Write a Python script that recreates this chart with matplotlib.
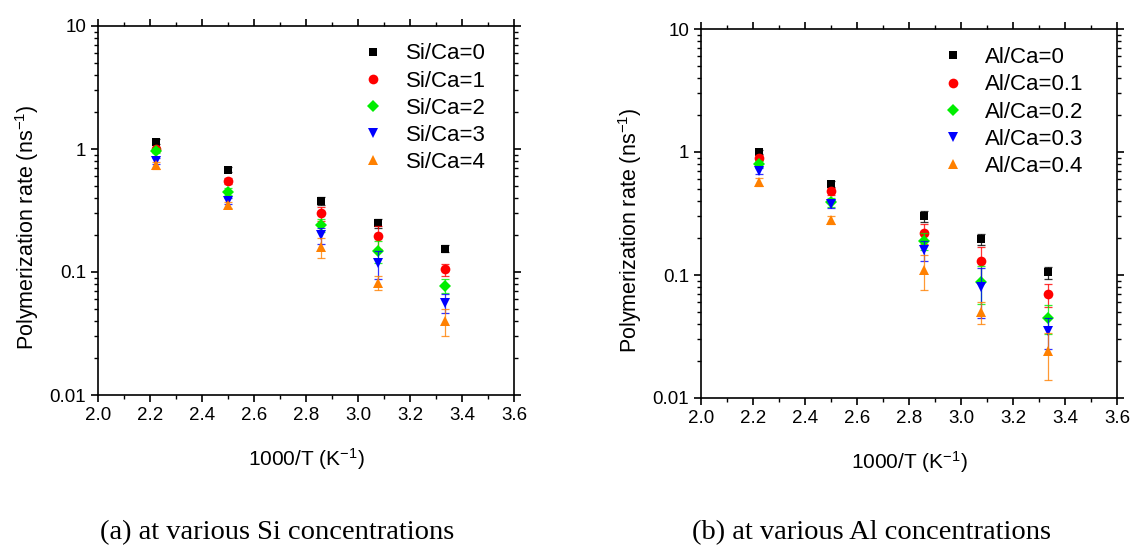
import numpy as np
import matplotlib
matplotlib.use("Agg")
import matplotlib.pyplot as plt
from matplotlib.ticker import MultipleLocator, LogLocator, FuncFormatter, NullFormatter

plt.rcParams['font.family'] = ['Liberation Sans', 'DejaVu Sans']
plt.rcParams['mathtext.fontset'] = 'custom'
plt.rcParams['mathtext.rm'] = 'Liberation Sans'
plt.rcParams['mathtext.it'] = 'Liberation Sans:italic'

inv_t = [2.222, 2.5, 2.857, 3.077, 3.333]

si_labels = ["Si/Ca=0", "Si/Ca=1", "Si/Ca=2", "Si/Ca=3", "Si/Ca=4"]
si_vals = [
    [1.15, 0.68, 0.38, 0.25, 0.155],
    [1.00, 0.55, 0.30, 0.195, 0.105],
    [0.97, 0.45, 0.24, 0.148, 0.077],
    [0.80, 0.38, 0.20, 0.118, 0.056],
    [0.74, 0.35, 0.16, 0.082, 0.040],
]
si_errs = [
    [0.05, 0.03, 0.03, 0.02, 0.010],
    [0.04, 0.03, 0.04, 0.04, 0.012],
    [0.04, 0.03, 0.03, 0.03, 0.010],
    [0.04, 0.02, 0.03, 0.03, 0.010],
    [0.05, 0.02, 0.03, 0.01, 0.010],
]

al_labels = ["Al/Ca=0", "Al/Ca=0.1", "Al/Ca=0.2", "Al/Ca=0.3", "Al/Ca=0.4"]
al_vals = [
    [1.00, 0.55, 0.30, 0.195, 0.105],
    [0.90, 0.48, 0.22, 0.13, 0.070],
    [0.80, 0.39, 0.19, 0.088, 0.045],
    [0.70, 0.38, 0.16, 0.080, 0.035],
    [0.57, 0.28, 0.11, 0.050, 0.024],
]
al_errs = [
    [0.03, 0.03, 0.03, 0.02, 0.012],
    [0.04, 0.03, 0.04, 0.04, 0.015],
    [0.04, 0.03, 0.03, 0.03, 0.012],
    [0.04, 0.03, 0.03, 0.035, 0.010],
    [0.04, 0.02, 0.035, 0.010, 0.010],
]

colors = ["#000000", "#ff0000", "#00ee00", "#0000ff", "#ff8000"]
markers = ["s", "o", "D", "v", "^"]
msizes = [6, 7, 6, 7.5, 7.5]

fig = plt.figure(figsize=(11.31, 5.46), dpi=100)
ax1 = fig.add_axes([98 / 1131, 1 - 395 / 546, 416 / 1131, 369 / 546])
ax2 = fig.add_axes([701 / 1131, 1 - 398 / 546, 416 / 1131, 369 / 546])


def draw(ax, labels, vals, errs, legend_x, legend_y):
    for lab, v, e, c, m, s in zip(labels, vals, errs, colors, markers, msizes):
        ax.errorbar(inv_t, v, yerr=e, fmt='none', ecolor=c, elinewidth=0.9,
                    capsize=3, capthick=0.9, alpha=0.8)
        ax.plot(inv_t, v, linestyle='none', marker=m, color=c, ms=s,
                markeredgewidth=0, label=lab)
    ax.set_yscale('log')
    ax.set_xlim(2.0, 3.6)
    ax.set_ylim(0.01, 10)
    ax.xaxis.set_major_locator(MultipleLocator(0.2))
    ax.xaxis.set_minor_locator(MultipleLocator(0.1))
    ax.xaxis.set_major_formatter(FuncFormatter(lambda x, p: "%.1f" % x))
    ax.yaxis.set_major_locator(LogLocator(base=10, numticks=10))
    ax.yaxis.set_minor_locator(LogLocator(base=10, subs=np.arange(2, 10), numticks=20))
    ax.yaxis.set_major_formatter(FuncFormatter(lambda y, p: "%g" % y))
    ax.yaxis.set_minor_formatter(NullFormatter())
    ax.tick_params(which='both', direction='out', top=True, right=True, labelsize=13.5)
    ax.tick_params(which='major', length=5, width=1.2)
    ax.tick_params(which='minor', length=3, width=1)
    for sp in ax.spines.values():
        sp.set_linewidth(1.2)
    ax.set_xlabel("1000/T (K$^{-1}$)", fontsize=15, labelpad=16)
    ax.set_ylabel("Polymerization rate (ns$^{-1}$)", fontsize=15.5, labelpad=6)
    ax.yaxis.label.set_y(0.456)
    ax.legend(loc='upper left', bbox_to_anchor=(legend_x, legend_y), frameon=False,
              fontsize=16, handlelength=1.0, handletextpad=0.95, labelspacing=0.28,
              borderaxespad=0, borderpad=0)


draw(ax1, si_labels, si_vals, si_errs, 0.635, 0.953)
draw(ax2, al_labels, al_vals, al_errs, 0.579, 0.951)

fig.text(277 / 1131, 1 - 533 / 546, "(a) at various Si concentrations",
         family='Liberation Serif', fontsize=20.5, ha='center', va='center')
fig.text(872 / 1131, 1 - 533 / 546, "(b) at various Al concentrations",
         family='Liberation Serif', fontsize=20.5, ha='center', va='center')

fig.savefig("out.png", dpi=100)
